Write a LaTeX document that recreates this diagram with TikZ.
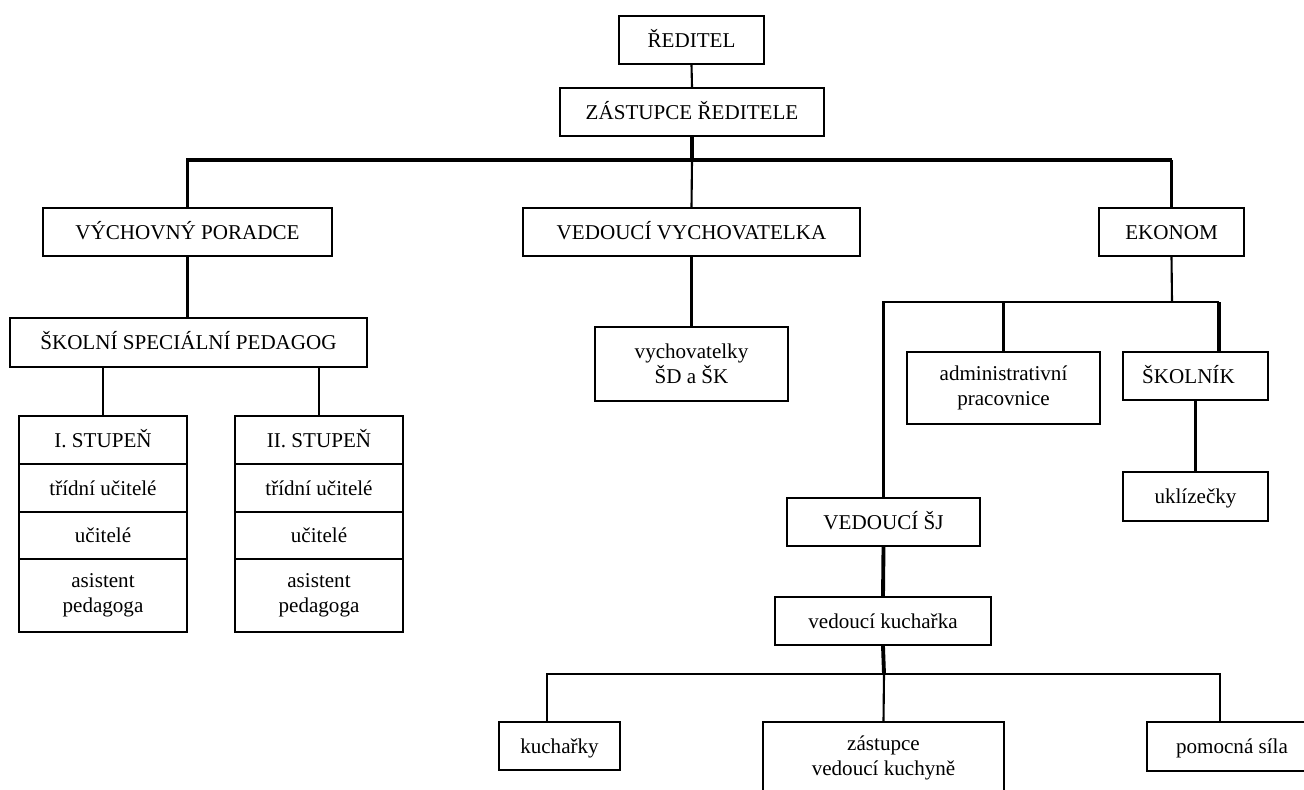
\documentclass[tikz,border=0pt]{standalone}
\usepackage{fontspec}
\setmainfont{Liberation Serif}
\usetikzlibrary{positioning}

\tikzset{
  box/.style={draw, line width=1.2pt, inner sep=0pt, align=center,
    font=\fontsize{12pt}{14pt}\selectfont, text height=11pt, text depth=3pt},
  box2/.style={draw, line width=1.2pt, inner sep=0pt, align=center,
    font=\fontsize{12pt}{14pt}\selectfont},
  conn/.style={line width=1.2pt},
  thickconn/.style={line width=2.2pt}
}

\begin{document}
\begin{tikzpicture}[x=0.02cm, y=-0.02cm]
\useasboundingbox (0,0) rectangle (1304,789);

% vedeni skoly
\node[box, minimum width=2.9cm, minimum height=0.96cm] (reditel) at (691.5,40) {ŘEDITEL};
\node[box, minimum width=5.28cm, minimum height=0.96cm] (zastupce) at (692,112) {ZÁSTUPCE ŘEDITELE};

% druha uroven
\node[box, minimum width=5.78cm, minimum height=0.96cm] (poradce) at (187.5,232) {VÝCHOVNÝ PORADCE};
\node[box, minimum width=6.74cm, minimum height=0.96cm] (vedvych) at (691.5,232) {VEDOUCÍ VYCHOVATELKA};
\node[box, minimum width=2.9cm, minimum height=0.96cm] (ekonom) at (1171.5,232) {EKONOM};

% pedagogove
\node[box, minimum width=7.14cm, minimum height=0.98cm] (specped) at (188.5,342.5) {ŠKOLNÍ SPECIÁLNÍ PEDAGOG};

\node[box, minimum width=3.36cm, minimum height=0.96cm] (st1) at (103,440) {I. STUPEŇ};
\node[box, minimum width=3.36cm, minimum height=0.96cm] (tu1) at (103,488) {třídní učitelé};
\node[box, minimum width=3.36cm, minimum height=0.94cm] (uc1) at (103,535.5) {učitelé};
\node[box2, minimum width=3.36cm, minimum height=1.46cm] (as1) at (103,595.5) {asistent\\pedagoga};

\node[box, minimum width=3.36cm, minimum height=0.96cm] (st2) at (319,440) {II. STUPEŇ};
\node[box, minimum width=3.36cm, minimum height=0.96cm] (tu2) at (319,488) {třídní učitelé};
\node[box, minimum width=3.36cm, minimum height=0.94cm] (uc2) at (319,535.5) {učitelé};
\node[box2, minimum width=3.36cm, minimum height=1.46cm] (as2) at (319,595.5) {asistent\\pedagoga};

% druzina a klub
\node[box2, minimum width=3.86cm, minimum height=1.48cm] (vychov) at (691.5,364) {vychovatelky\\ŠD a ŠK};

% provoz
\node[box2, minimum width=3.86cm, minimum height=1.44cm] (admin) at (1003.5,388) {administrativní\\pracovnice};
\node[box, minimum width=2.9cm, minimum height=0.96cm] (skolnik) at (1195.5,376) {ŠKOLNÍK\hspace{8pt}};
\node[box, minimum width=2.9cm, minimum height=0.98cm] (uklid) at (1195.5,496.5) {uklízečky};

% skolni jidelna
\node[box, minimum width=3.86cm, minimum height=0.96cm] (vedsj) at (883.5,522) {VEDOUCÍ ŠJ};
\node[box, minimum width=4.32cm, minimum height=0.96cm] (vedkuch) at (883,621) {vedoucí kuchařka};
\node[box, minimum width=2.42cm, minimum height=0.96cm] (kuchar) at (559.5,746) {kuchařky};
\node[box2, minimum width=4.82cm, minimum height=1.44cm] (zastkuch) at (883.5,758) {zástupce\\vedoucí kuchyně};
\node[box, minimum width=3.4cm, minimum height=0.98cm] (pomoc) at (1232,746.5) {pomocná síla};

% spojnice nahore
\coordinate (h1) at (692,160);
\draw[conn] (reditel.south) -- (zastupce.north);
\draw[thickconn] (zastupce.south) -- (h1);
\draw[thickconn] (poradce.north) |- (ekonom.north |- h1);
\draw[conn] (ekonom.north |- h1) -- (ekonom.north);
\draw[conn] (h1) -- (vedvych.north);

% leva vetev
\draw[conn] (poradce.south) -- (poradce.south |- specped.north);
\draw[conn] (st1.north) -- (st1.north |- specped.south);
\draw[conn] (st2.north) -- (st2.north |- specped.south);

% stredni vetev
\draw[conn] (vedvych.south) -- (vychov.north);

% prava vetev
\coordinate (h2) at (1172,302);
\coordinate (skol) at (1219,302);
\draw[conn] (ekonom.south) -- (h2);
\draw[conn] (vedsj.north) |- (skol);
\draw[conn] (admin.north) -- (admin.north |- h2);
\draw[thickconn] (skol) -- (skol |- skolnik.north);
\draw[thickconn] (skolnik.south) -- (uklid.north);

% jidelna
\coordinate (h3) at (884,674);
\coordinate (kl) at (547,674);
\coordinate (pr) at (1220,674);
\draw[thickconn] (vedsj.south) -- (vedkuch.north);
\draw[thickconn] (vedkuch.south) -- (h3);
\draw[conn] (kl |- kuchar.north) -- (kl) -- (pr) -- (pr |- pomoc.north);
\draw[conn] (h3) -- (zastkuch.north);
\end{tikzpicture}
\end{document}
